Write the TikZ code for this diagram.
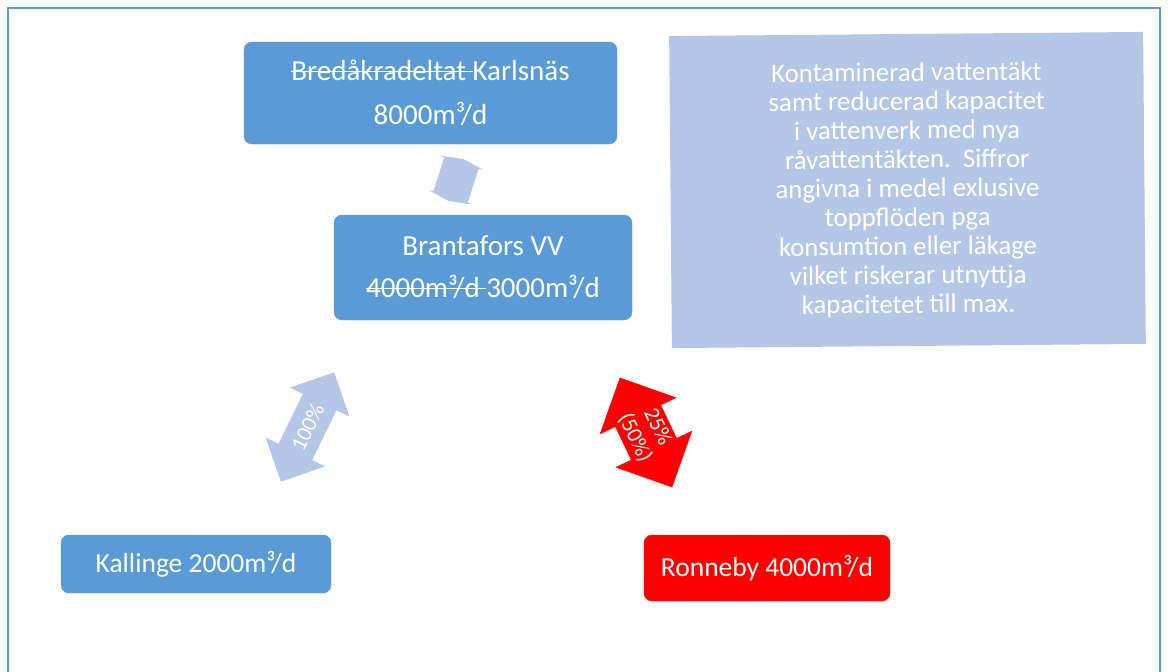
\documentclass[tikz,border=0pt]{standalone}
\usepackage{fontspec}
\setmainfont{Carlito}
\usepackage{tikz}
\usetikzlibrary{
    shapes.arrows,
    positioning
}
\definecolor{vvblue}{HTML}{5B9BD5}
\definecolor{vvlight}{HTML}{B4C7E7}
\definecolor{vvred}{HTML}{FF0000}
% struck-out text
\newcommand{\strk}[1]{\setbox0\hbox{#1}\rlap{\raisebox{0.3em}{\rule{\wd0}{1.3pt}}}\box0\relax}
\tikzset{
    % Filled site box
    sitebox/.style={
        rectangle,
        rounded corners=8pt,
        draw=#1,
        fill=#1,
        text=white,
        font=\fontsize{27.5}{33}\selectfont,
        align=center,
        inner sep=4pt
    },
    sitebox/.default=vvblue,
    % Larger text in the upper boxes
    bigtext/.style={
        font=\fontsize{29}{34}\selectfont
    },
    % Note box
    notebox/.style={
        rectangle,
        fill=vvlight,
        text=white,
        font=\fontsize{26.8}{29}\selectfont,
        align=center,
        minimum width=474pt,
        minimum height=312pt
    },
    % Block arrow between sites
    flowarrow/.style={
        double arrow,
        draw=#1,
        fill=#1,
        text=white,
        font=\fontsize{22}{25}\selectfont,
        align=center,
        inner sep=3pt
    },
    flowarrow/.default=vvlight
}

\begin{document}
\begin{tikzpicture}[x=1pt, y=-1pt]

    \useasboundingbox (0,0) rectangle (1168,672);

    % Outer frame
    \draw[vvblue, line width=2pt] (8,672) -- (8,8) -- (1160,8) -- (1160,672);

    % Karlsnäs
    \node[sitebox, bigtext, minimum width=373pt, minimum height=102pt] (karlsnas) at (430.5,93)
        {\strk{Bredåkradeltat }Karlsnäs\\[10pt]8000m³/d};

    % Brantafors VV
    \node[sitebox, bigtext, minimum width=298pt, minimum height=105pt] (brantafors) at (483,267.5)
        {Brantafors VV\\[8pt]\strk{4000m³/d }3000m³/d};

    % Kallinge
    \node[sitebox, minimum width=270pt, minimum height=58pt] (kallinge) at (196,564)
        {Kallinge 2000m³/d};

    % Ronneby
    \node[sitebox=vvred, minimum width=246pt, minimum height=66pt] (ronneby) at (767,568)
        {Ronneby 4000m³/d};

    % Note
    \node[notebox, rotate=0.5] (note) at (907.5,190)
        {Kontaminerad vattentäkt\\samt reducerad kapacitet\\i vattenverk med nya\\råvattentäkten.\ \ Siffror\\angivna i medel exlusive\\toppflöden pga\\konsumtion eller läkage\\vilket riskerar utnyttja\\kapacitetet till max.};

    % Arrows
    \node[flowarrow, rotate=72, minimum height=44pt, minimum width=44pt, inner sep=17pt,
        double arrow head extend=4pt, double arrow tip angle=160] (karlsnasflow) at (456,180) {};

    \node[flowarrow, rotate=64, minimum height=121pt, minimum width=65pt, inner sep=8pt,
        double arrow head extend=12pt] (kallingeflow) at (307.5,427) {100\%};

    \node[flowarrow=vvred, rotate=-64.5, minimum height=121pt, minimum width=84pt, inner sep=2pt,
        double arrow head extend=16pt] (ronnebyflow) at (646,432.5) {25\%\\(50\%)};

\end{tikzpicture}
\end{document}
